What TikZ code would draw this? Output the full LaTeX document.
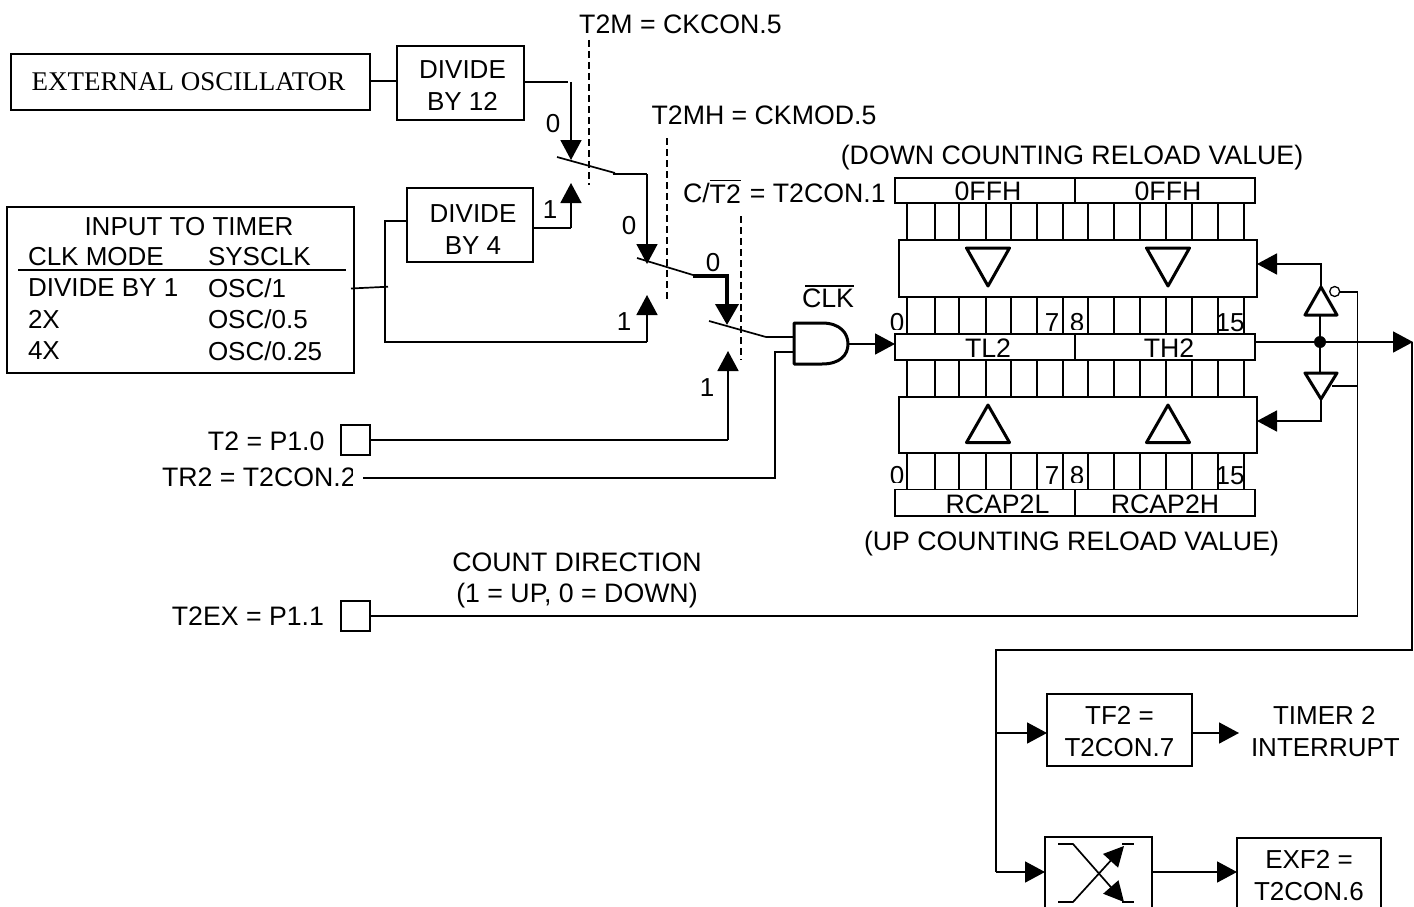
\documentclass[tikz,border=0pt]{standalone}
\usepackage{fontspec}
\setmainfont{Liberation Sans}
\newfontfamily\serifface{Liberation Serif}
\usetikzlibrary{arrows.meta}
\tikzset{
 ln/.style={line width=1.7pt,line cap=butt},
 arr/.style={ln,-{Triangle[length=20pt,width=21pt]}},
 thickarr/.style={line width=3.8pt,-{Triangle[length=21pt,width=23pt]}},
 box/.style={draw,line width=1.7pt,fill=white,inner sep=0pt,outer sep=0pt,align=center,font=\fontsize{26}{32}\selectfont},
 lbl/.style={inner sep=0pt,outer sep=0pt,font=\fontsize{26.7}{31}\selectfont},
 tbl/.style={inner sep=0pt,outer sep=0pt,anchor=west,font=\fontsize{26}{31}\selectfont},
 lft/.style={lbl,anchor=west},
 rgt/.style={lbl,anchor=east},
 num/.style={lbl,font=\fontsize{26}{28}\selectfont},
 tri/.style={draw,line width=3pt,line join=round},
 ctldash/.style={ln,dash pattern=on 7pt off 4pt},
}
\begin{document}
\begin{tikzpicture}[x=1pt,y=-1pt]
\useasboundingbox (0,0) rectangle (1414,907);
\clip (0,0) rectangle (1414,907);
\fill[white] (0,0) rectangle (1414,907);

% top-left boxes
\node[box,minimum width=359pt,minimum height=56pt,font=\serifface\fontsize{27}{31}\selectfont] (osc) at (190.5,82) {\hspace*{-4pt}EXTERNAL OSCILLATOR};
\node[box,minimum width=127pt,minimum height=74pt] (div12) at (460.5,83) {\hspace*{4pt}\rule{0pt}{22.6pt}DIVIDE\\\hspace*{4pt}BY 12};
\node[box,minimum width=126pt,minimum height=74pt] (div4) at (470,225) {\hspace*{6pt}\rule{0pt}{27.6pt}DIVIDE\\\hspace*{6pt}BY 4};
\node[box,minimum width=347pt,minimum height=166pt] (input) at (180.5,290) {};
\node[lbl,font=\fontsize{26}{31}\selectfont] (inhead) at (189,227) {INPUT TO TIMER};
\node[tbl] (t1a) at (28,257) {CLK MODE};
\node[tbl] (t1b) at (208,257) {SYSCLK};
\node[tbl] (t2a) at (28,288) {DIVIDE BY 1};
\node[tbl] (t2b) at (208,288) {OSC/1};
\node[tbl] (t3a) at (28,319.5) {2X};
\node[tbl] (t3b) at (208,319.5) {OSC/0.5};
\node[tbl] (t4a) at (28,351) {4X};
\node[tbl] (t4b) at (208,351) {OSC/0.25};
\coordinate (hl) at (18,270); \coordinate (hr) at (346,270);
\draw[ln] (hl) -- (hr);

% dashed control lines
\node[lbl] (t2m) at (680.5,24) {T2M = CKCON.5};
\node[lbl] (t2mh) at (764,115) {T2MH = CKMOD.5};
\node[lbl,anchor=base west] (ct2) at (683,202) {C/\raisebox{-1.5pt}{$\overline{\mbox{\rule{0pt}{22pt}T2}}$}\hspace{9pt}= T2CON.1};
\coordinate (d1a) at (589,40); \coordinate (d1b) at (589,185);
\coordinate (d2a) at (667,138); \coordinate (d2b) at (667,302);
\coordinate (d3a) at (741,216); \coordinate (d3b) at (741,360);
\draw[ctldash] (d1a) -- (d1b);
\draw[ctldash] (d2a) -- (d2b);
\draw[ctldash] (d3a) -- (d3b);

% switch 1
\coordinate (s1l) at (557,157); \coordinate (s1r) at (615,173);
\coordinate (c1a) at (571,82); \coordinate (c1t) at (571,160);
\coordinate (c1b) at (571,228); \coordinate (c1u) at (571,183);
\draw[ln] (osc.east |- 0,81) -- (div12.west |- 0,81);
\draw[ln] (div12.east |- 0,82) -- (568,82);
\draw[arr] (c1a) -- (c1t);
\draw[arr] (c1b) -- (c1u);
\draw[ln] (div4.east |- c1b) -- (c1b);
\draw[ln] (s1l) -- (s1r);
\node[num] (n0a) at (553,124) {0};
\node[num] (n1a) at (550,210) {1};

% switch 2
\coordinate (s2l) at (637,258); \coordinate (s2r) at (693,275);
\coordinate (c2a) at (647,174); \coordinate (c2t) at (647,264);
\coordinate (c2u) at (647,295); \coordinate (c2b) at (647,342);
\coordinate (inj) at (351,288.5); \coordinate (inj2) at (385,342); \coordinate (inj3) at (385,221);
\draw[ln] (613,174) -- (c2a);
\draw[arr] (c2a) -- (c2t);
\draw[ln] (inj) -- (388,286.7);
\draw[ln] (div4.west |- inj3) -- (inj3) -- (inj2) -- (c2b);
\draw[arr] (c2b) -- (c2u);
\draw[ln] (s2l) -- (s2r);
\node[num] (n0b) at (629,226) {0};
\node[num] (n1b) at (624,322) {1};

% switch 3
\coordinate (s3l) at (709,321); \coordinate (s3r) at (766,337);
\coordinate (c3a) at (693,276); \coordinate (c3b) at (727,276); \coordinate (c3t) at (727,325);
\coordinate (c3u) at (728,351); \coordinate (c3d) at (728,440);
\draw[thickarr] (c3a) -- (c3b) -- (c3t);
\draw[ln] (s3l) -- (s3r);
\coordinate (gatein) at (794,337);
\draw[ln] (s3r) -- (gatein);
\node[num] (n0c) at (713,263) {0};
\node[num] (n1c) at (707,388) {1};

% pins
\node[box,minimum width=29pt,minimum height=30pt] (t2pin) at (355.5,440) {};
\node[box,minimum width=29pt,minimum height=30pt] (t2expin) at (355.5,616) {};
\node[rgt] (t2lab) at (324.5,441) {T2 = P1.0};
\node[rgt] (t2exlab) at (324,616) {T2EX = P1.1};
\begin{scope}
\clip (150,455) rectangle (352.5,500);
\node[lft] (tr2lab) at (162,477) {TR2 = T2CON.2};
\end{scope}
\draw[ln] (t2pin.east) -- (c3d);
\draw[arr] (c3d) -- (c3u);
\coordinate (trs) at (363,478); \coordinate (trc) at (775,478); \coordinate (tre) at (794,352); \coordinate (trm) at (775,352);
\draw[ln] (trs) -- (trc) -- (trm) -- (tre);
\node[lbl,align=center] (cd) at (577,580.5) {COUNT DIRECTION\\(1 = UP, 0 = DOWN)};

% AND gate
\draw[line width=3pt,line join=round,fill=white] (794,323) -- (822,323) .. controls (840,323) and (848,333) .. (848,344) .. controls (848,355) and (840,364) .. (822,364) -- (794,364) -- cycle;
\coordinate (gateout) at (848,344);
\node[lbl] (clk) at (828,298) {CLK};
\coordinate (ol) at (805,286); \coordinate (or) at (854,286);
\draw[line width=1.3pt] (ol) -- (or);
\draw[arr] (gateout) -- (895,344);

% registers
\node[lbl] (dn) at (1072,158) {(DOWN COUNTING RELOAD VALUE)};
\node[lbl] (up) at (1071.5,544) {(UP COUNTING RELOAD VALUE)};
\begin{scope}
\clip (880,300) rectangle (1260,329);
\node[num] (b0a) at (897,322.3) {0};
\node[num] (b8a) at (1077,322.3) {8};
\end{scope}
\node[num] (b7a) at (1052,322.3) {7};
\node[num] (b15a) at (1230,322.3) {15};
\begin{scope}
\clip (880,455) rectangle (1260,482.5);
\node[num] (b0b) at (897,475.5) {0};
\node[num] (b8b) at (1077,475.5) {8};
\end{scope}
\node[num] (b7b) at (1052,475.5) {7};
\node[num] (b15b) at (1230,475.5) {15};
\foreach \x in {907,935,959,986,1011,1037,1063,1088,1114,1140,1166,1192,1218,1244}{
 \draw[ln] (\x,203) -- (\x,240);
 \draw[ln] (\x,297) -- (\x,334);
 \draw[ln] (\x,360) -- (\x,397);
 \draw[ln] (\x,453) -- (\x,489.5);
}
\node[box,minimum width=180pt,minimum height=25pt] (ffl) at (985,190.5) {};
\node[box,minimum width=180pt,minimum height=25pt] (ffh) at (1165,190.5) {};
\node[lbl] (ffla) at (988,191.5) {0FFH};
\node[lbl] (ffha) at (1168,191.5) {0FFH};
\node[box,minimum width=358pt,minimum height=57pt] (upbar) at (1078,268.5) {};
\node[box,minimum width=180pt,minimum height=26pt] (tl) at (985,347) {};
\node[box,minimum width=180pt,minimum height=26pt] (th) at (1165,347) {};
\node[lbl] (tla) at (988,348.5) {TL2};
\node[lbl] (tha) at (1169,348.5) {TH2};
\node[box,minimum width=358pt,minimum height=56pt] (lobar) at (1078,425) {};
\node[box,minimum width=180pt,minimum height=26.5pt] (rl) at (985,502.75) {};
\node[box,minimum width=180pt,minimum height=26.5pt] (rh) at (1165,502.75) {};
\node[lbl] (rla) at (997.5,504) {RCAP2L};
\node[lbl] (rha) at (1165,504) {RCAP2H};
\foreach \x in {988,1168}{
 \draw[tri] (\x-21.5,248) -- (\x+21.5,248) -- (\x,286) -- cycle;
 \draw[tri] (\x-21.5,442.5) -- (\x+21.5,442.5) -- (\x,405) -- cycle;
}

% direction buffers
\coordinate (j) at (1320,342);
\coordinate (ta) at (1321,287); \coordinate (tb) at (1321,264); \coordinate (tl1) at (1320,315);
\coordinate (ba) at (1321,399); \coordinate (bb) at (1321,421); \coordinate (bl1) at (1320,373);
\draw[ln] (tl1) -- (j) -- (bl1);
\draw[tri] (1305,315) -- (1337,315) -- (ta) -- cycle;
\draw[tri] (1305,373) -- (1337,373) -- (ba) -- cycle;
\draw[ln] (ta) -- (tb);
\draw[arr] (1322,264) -- (upbar.east |- 0,264);
\draw[ln] (ba) -- (bb);
\draw[arr] (1322,421) -- (lobar.east |- 0,421);
\fill (j) circle (6pt);
\node[draw,circle,line width=1.3pt,minimum size=10pt,inner sep=0pt] (bub) at (1334.7,291.5) {};
\coordinate (ctl) at (1357.5,292); \coordinate (ctb) at (1357.5,386); \coordinate (ctp) at (1357.5,616);
\draw[ln] (t2expin.east) -- (ctp) -- (ctl) -- (bub.east |- ctl);
\draw[ln] (1332,386) -- (ctb);
\coordinate (mainarr) at (1413,342);
\draw[arr] (th.east |- j) -- (mainarr);
\coordinate (rv) at (1412,342); \coordinate (rb) at (1412,650); \coordinate (lb) at (996,650); \coordinate (lv) at (996,872); \coordinate (lm) at (996,733);
\draw[ln] (rv) -- (rb) -- (lb) -- (lv);

% flags
\node[box,minimum width=145pt,minimum height=72pt] (tf2) at (1119.5,730) {\rule{0pt}{21.6pt}TF2 =\\T2CON.7};
\draw[arr] (lm) -- (tf2.west |- lm);
\coordinate (intp) at (1239,733);
\draw[arr] (tf2.east |- intp) -- (intp);
\begin{scope}
\clip (1240,695) rectangle (1376,732);
\node[tbl] (tim) at (1273,715.5) {TIMER 2};
\end{scope}
\node[tbl] (intr) at (1251,748) {INTERRUPT};

\node[box,minimum width=107pt,minimum height=90pt] (xbox) at (1098.5,882) {};
\node[box,minimum width=144pt,minimum height=90pt,anchor=north] (exf) at (1309,838) {};
\node[lbl,align=center,font=\fontsize{26}{32}\selectfont] (exft) at (1309,876) {EXF2 =\\T2CON.6};
\draw[arr] (lv) -- (xbox.west |- lv);
\draw[arr] (xbox.east |- lv) -- (exf.west |- lv);
\coordinate (xa) at (1058,844); \coordinate (xb) at (1073,844); \coordinate (xc) at (1124,902);
\coordinate (xd) at (1058,902); \coordinate (xe) at (1073,902); \coordinate (xf) at (1124,846);
\draw[ln,-{Triangle[length=20pt,width=20pt]}] (xa) -- (xb) -- (xc);
\draw[ln,-{Triangle[length=20pt,width=20pt]}] (xd) -- (xe) -- (xf);
\draw[ln] (1122,844) -- (1134,844);
\draw[ln] (1122,902) -- (1134,902);
\end{tikzpicture}
\end{document}
